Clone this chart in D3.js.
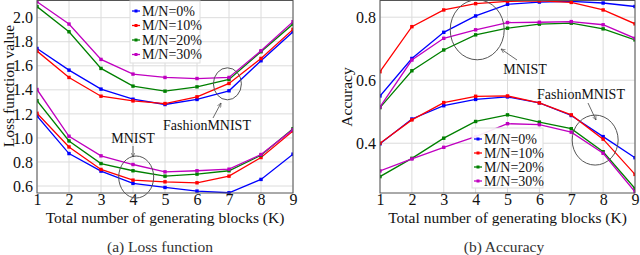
<!DOCTYPE html>
<html><head><meta charset="utf-8">
<script src="https://cdn.jsdelivr.net/npm/d3@7"></script>
<style>body{margin:0;background:#fff}svg{display:block}</style>
</head><body><svg id="c" width="640" height="255"></svg>
<script>
const FONT = "'Liberation Serif', 'Times New Roman', Times, 'DejaVu Serif', serif";
const ks = [1,2,3,4,5,6,7,8,9];
const seriesNames = ["M/N=0%","M/N=10%","M/N=20%","M/N=30%"];
const colors = ["#0000ff","#ff0000","#008000","#c000c0"];
// Loss function - FashionMNIST
const lossFashion0  = [1.744,1.564,1.406,1.322,1.278,1.320,1.392,1.642,1.883];
const lossFashion10 = [1.722,1.503,1.347,1.308,1.286,1.342,1.453,1.661,1.903];
const lossFashion20 = [2.092,1.883,1.578,1.431,1.389,1.425,1.486,1.717,1.947];
const lossFashion30 = [2.133,1.947,1.653,1.531,1.503,1.494,1.503,1.725,1.967];
// Loss function - MNIST
const lossMnist0  = [1.183,0.870,0.724,0.622,0.588,0.558,0.544,0.655,0.865];
const lossMnist10 = [1.205,0.925,0.738,0.649,0.635,0.627,0.682,0.837,1.058];
const lossMnist20 = [1.310,0.975,0.787,0.727,0.682,0.699,0.727,0.856,1.077];
const lossMnist30 = [1.403,1.014,0.851,0.779,0.718,0.727,0.740,0.862,1.069];
// Accuracy - MNIST
const accMnist0  = [0.550,0.669,0.752,0.804,0.841,0.848,0.850,0.845,0.834];
const accMnist10 = [0.627,0.770,0.823,0.843,0.850,0.852,0.847,0.823,0.779];
const accMnist20 = [0.513,0.630,0.696,0.744,0.765,0.778,0.781,0.763,0.728];
const accMnist30 = [0.515,0.664,0.733,0.760,0.783,0.784,0.786,0.776,0.733];
// Accuracy - FashionMNIST
const accFashion0  = [0.398,0.477,0.519,0.539,0.547,0.528,0.488,0.421,0.354];
const accFashion10 = [0.400,0.474,0.529,0.549,0.550,0.528,0.490,0.413,0.301];
const accFashion20 = [0.294,0.352,0.416,0.469,0.490,0.467,0.446,0.373,0.256];
const accFashion30 = [0.312,0.350,0.387,0.421,0.462,0.459,0.435,0.368,0.246];
const lossTicks = [0.6,0.8,1.0,1.2,1.4,1.6,1.8,2.0];
const accTicks = [0.4,0.6,0.8];

const svg = d3.select("#c").attr("font-family",FONT);

function txt(sel){return sel.style("font-family",FONT);}

function panel(o){
  const g = svg.append("g");
  const x = d3.scaleLinear().domain([1,9]).range([o.x0,o.x1]);
  const y = d3.scaleLinear().domain(o.ydom).range([o.y1,o.y0]);
  g.selectAll(".vg").data(ks).enter().append("line")
    .attr("x1",d=>x(d)).attr("x2",d=>x(d)).attr("y1",o.y0).attr("y2",o.y1)
    .attr("stroke","#dcdcdc").attr("stroke-width",1);
  g.selectAll(".hg").data(o.ticks).enter().append("line")
    .attr("x1",o.x0).attr("x2",o.x1).attr("y1",d=>y(d)).attr("y2",d=>y(d))
    .attr("stroke","#dcdcdc").attr("stroke-width",1);
  const xa = g.append("g").attr("transform",`translate(0,${o.y1})`)
    .call(d3.axisBottom(x).tickValues(ks).tickFormat(d3.format("d")).tickSize(0).tickPadding(1));
  const ya = g.append("g").attr("transform",`translate(${o.x0},0)`)
    .call(d3.axisLeft(y).tickValues(o.ticks).tickFormat(d3.format(".1f")).tickSize(0).tickPadding(4));
  [xa,ya].forEach(a=>{a.attr("font-family",null);a.select(".domain").remove();
    txt(a.selectAll("text")).attr("font-size",16).attr("fill","#111");});
  const line = d3.line().x((d,i)=>x(ks[i])).y(d=>y(d));
  g.append("clipPath").attr("id","cp"+o.id).append("rect")
    .attr("x",o.x0).attr("y",o.y0).attr("width",o.x1-o.x0).attr("height",o.y1-o.y0+1);
  const lg = g.append("g").attr("clip-path",`url(#cp${o.id})`);
  o.groups.forEach(grp=>{
    grp.forEach((vals,si)=>{
      lg.append("path").attr("d",line(vals)).attr("fill","none")
        .attr("stroke",colors[si]).attr("stroke-width",1.3);
      lg.selectAll(null).data(vals).enter().append("rect")
        .attr("x",(d,i)=>x(ks[i])-1.7).attr("y",d=>y(d)-1.7)
        .attr("width",3.4).attr("height",3.4).attr("fill",colors[si]);
    });
  });
  g.append("rect").attr("x",o.x0).attr("y",o.y0).attr("width",o.x1-o.x0).attr("height",o.y1-o.y0)
    .attr("fill","none").attr("stroke","#555").attr("stroke-width",1);
  txt(g.append("text")).attr("x",(o.x0+o.x1)/2).attr("y",223).attr("text-anchor","middle")
    .attr("font-size",15.5).attr("fill","#111").text("Total number of generating blocks (K)");
  txt(g.append("text")).attr("transform",`translate(${o.ytx},${o.yty}) rotate(-90)`)
    .attr("text-anchor","middle").attr("font-size",15.5).attr("fill","#111").text(o.ytitle);
  txt(g.append("text")).attr("x",o.capx).attr("y",252).attr("text-anchor","middle")
    .attr("font-size",15.5).attr("fill","#333").text(o.caption);
  const L = o.legend;
  const lgd = g.append("g");
  lgd.append("rect").attr("x",L.x).attr("y",L.y).attr("width",L.w).attr("height",L.h)
    .attr("fill","#fff").attr("fill-opacity",0.9).attr("stroke","#ddd");
  seriesNames.forEach((s,i)=>{
    const yy = L.y+L.first+i*L.step;
    lgd.append("line").attr("x1",L.x+2).attr("x2",L.x+10).attr("y1",yy).attr("y2",yy)
      .attr("stroke",colors[i]).attr("stroke-width",1.3);
    lgd.append("rect").attr("x",L.x+4.5).attr("y",yy-1.5).attr("width",3).attr("height",3).attr("fill",colors[i]);
    txt(lgd.append("text")).attr("x",L.x+12).attr("y",yy).attr("dy","0.35em")
      .attr("font-size",14).attr("fill","#111").text(s);
  });
  o.notes.forEach(n=>{
    g.append("ellipse").attr("cx",x(n.cx)).attr("cy",y(n.cy)).attr("rx",n.rx).attr("ry",n.ry)
      .attr("fill","none").attr("stroke","#555").attr("stroke-width",1);
    g.append("line").attr("x1",n.ax1).attr("y1",n.ay1).attr("x2",n.ax2).attr("y2",n.ay2)
      .attr("stroke","#444").attr("stroke-width",0.8).attr("marker-end","url(#arr)");
    txt(g.append("text")).attr("x",n.tx).attr("y",n.ty).attr("text-anchor","middle")
      .attr("font-size",14).attr("fill","#111").text(n.label);
  });
}

svg.append("defs").append("marker").attr("id","arr").attr("viewBox","0 0 10 10")
  .attr("refX",9).attr("refY",5).attr("markerWidth",6).attr("markerHeight",6).attr("orient","auto")
  .append("path").attr("d","M0,1 L9,5 L0,9").attr("fill","none").attr("stroke","#444").attr("stroke-width",1.2);

panel({id:"a",x0:37,x1:293,y0:0.5,y1:193,ydom:[0.542,2.143],ticks:lossTicks,
  groups:[[lossFashion0,lossFashion10,lossFashion20,lossFashion30],[lossMnist0,lossMnist10,lossMnist20,lossMnist30]],
  ytitle:"Loss function value",ytx:14,yty:86,caption:"(a)  Loss function",capx:160,
  legend:{x:130,y:1,w:70,h:62,first:10,step:14.5},
  notes:[{cx:6.95,cy:1.45,rx:14,ry:16,ax1:213,ay1:118,ax2:221,ay2:103,tx:207,ty:130,label:"FashionMNIST"},
         {cx:4.1,cy:0.675,rx:17.5,ry:21,ax1:133,ay1:146,ax2:133,ay2:157,tx:133,ty:143,label:"MNIST"}]});

panel({id:"b",x0:380,x1:635,y0:0.5,y1:193,ydom:[0.242,0.853],ticks:accTicks,
  groups:[[accMnist0,accMnist10,accMnist20,accMnist30],[accFashion0,accFashion10,accFashion20,accFashion30]],
  ytitle:"Accuracy",ytx:352,yty:97,caption:"(b)  Accuracy",capx:504,
  legend:{x:472,y:128,w:71,h:60,first:11,step:14},
  notes:[{cx:4.05,cy:0.76,rx:27,ry:30,ax1:517,ay1:60,ax2:501,ay2:49,tx:525,ty:74,label:"MNIST"},
         {cx:7.75,cy:0.41,rx:23,ry:25,ax1:588,ay1:103,ax2:596,ay2:120,tx:581,ty:99,label:"FashionMNIST"}]});
</script></body></html>
